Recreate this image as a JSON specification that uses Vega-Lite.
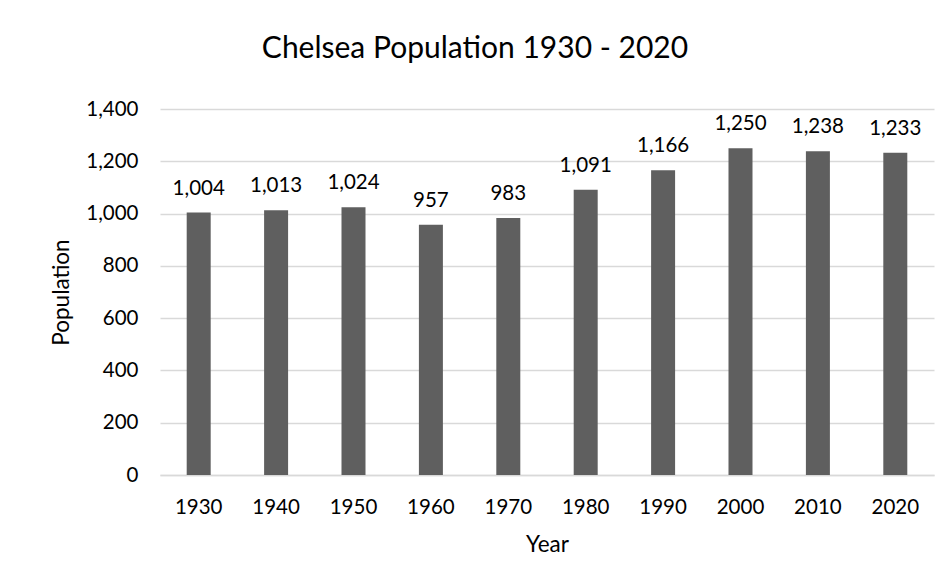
{
  "$schema": "https://vega.github.io/schema/vega-lite/v6.json",
  "width": 774,
  "height": 366,
  "autosize": {"type": "none"},
  "padding": {"left": 160, "top": 109, "right": 17, "bottom": 113},
  "background": "white",
  "config": {
    "view": {"stroke": null},
    "font": "Lato",
    "axis": {"labelFont": "Lato", "titleFont": "Lato", "labelColor": "#000000", "titleColor": "#000000", "labelFontSize": 20.5, "titleFontSize": 22.5, "titleFontWeight": "normal"}
  },
  "title": {"text": "Chelsea Population 1930 - 2020", "fontSize": 30, "fontWeight": "normal", "font": "Lato", "color": "#000000", "anchor": "middle", "dx": -72, "offset": 35},
  "data": {"values": [
    {"Year": "1930", "Population": 1004},
    {"Year": "1940", "Population": 1013},
    {"Year": "1950", "Population": 1024},
    {"Year": "1960", "Population": 957},
    {"Year": "1970", "Population": 983},
    {"Year": "1980", "Population": 1091},
    {"Year": "1990", "Population": 1166},
    {"Year": "2000", "Population": 1250},
    {"Year": "2010", "Population": 1238},
    {"Year": "2020", "Population": 1233}
  ]},
  "encoding": {
    "x": {"field": "Year", "type": "ordinal", "scale": {"paddingInner": 0.69, "paddingOuter": 0.345},
      "axis": {"labelAngle": 0, "ticks": false, "domainColor": "#d9d9d9", "domainWidth": 1.5, "labelPadding": 22, "titlePadding": 16, "grid": false}},
    "y": {"field": "Population", "type": "quantitative", "scale": {"domain": [0, 1400]},
      "axis": {"values": [0, 200, 400, 600, 800, 1000, 1200, 1400], "format": ",d", "domain": false, "ticks": false, "gridColor": "#d9d9d9", "gridWidth": 1.5, "labelPadding": 22, "titlePadding": 12}}
  },
  "layer": [
    {"mark": {"type": "bar", "color": "#5f5f5f"}},
    {"mark": {"type": "text", "baseline": "alphabetic", "dy": -18, "fontSize": 20.5, "font": "Lato", "color": "#000000"},
      "encoding": {"text": {"field": "Population", "type": "quantitative", "format": ",d"}}}
  ]
}
